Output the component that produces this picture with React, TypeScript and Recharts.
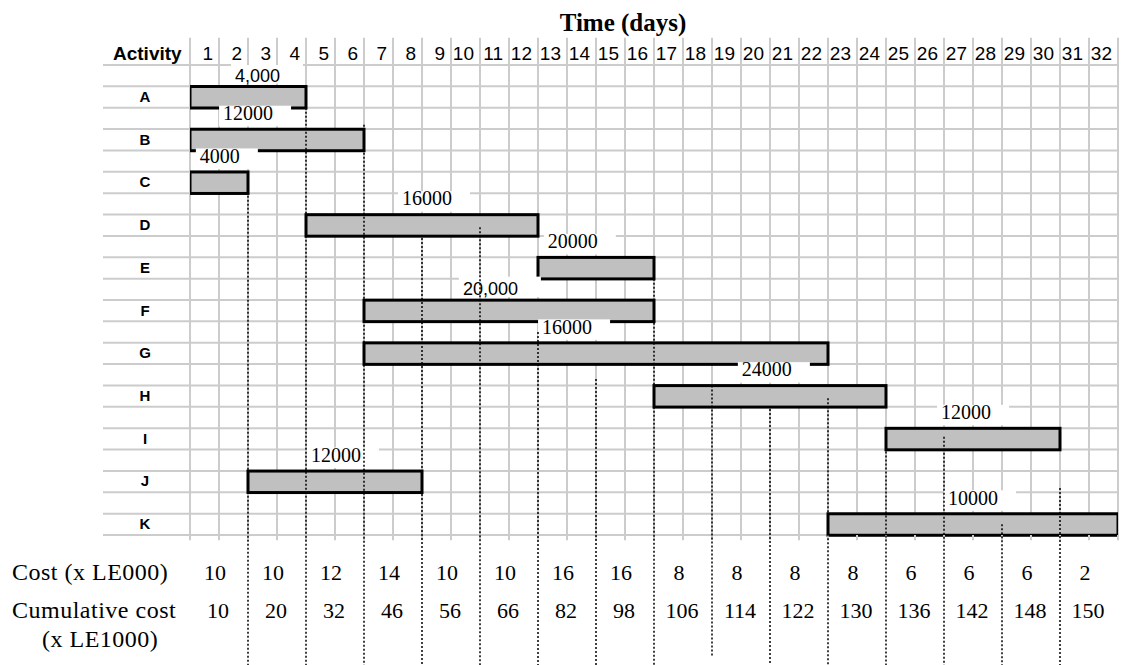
import React from "react";
import { ComposedChart, Bar, XAxis, YAxis, CartesianGrid, ReferenceLine } from "recharts";

// activities and their durations (days)
const activities = ["A", "B", "C", "D", "E", "F", "G", "H", "I", "J", "K"];
const startDay = [0, 0, 0, 4, 12, 6, 6, 16, 24, 2, 22];
const endDay = [4, 6, 2, 12, 16, 16, 22, 24, 30, 8, 32];
const costText = ["4,000", "12000", "4000", "16000", "20000", "20,000", "16000", "24000", "12000", "12000", "10000"];
// day where the cost text starts
const costTextDay = [1.55, 1.14, 0.34, 7.31, 12.34, 9.41, 12.14, 19.03, 25.9, 4.17, 26.14];

const dayTicks = [0, 1, 2, 3, 4, 5, 6, 7, 8, 9, 10, 11, 12, 13, 14, 15, 16, 17, 18, 19, 20, 21, 22, 23, 24, 25, 26, 27, 28, 29, 30, 31, 32];
const rowTicks = [0, 1, 2, 3, 4, 5, 6, 7, 8, 9, 10, 11, 12, 13, 14, 15, 16, 17, 18, 19, 20, 21, 22];

// two-day periods
const periodMid = [1, 3, 5, 7, 9, 11, 13, 15, 17, 19, 21, 23, 25, 27, 29, 31];
const periodCost = [10, 10, 12, 14, 10, 10, 16, 16, 8, 8, 8, 8, 6, 6, 6, 2];
const periodCumulative = [10, 20, 32, 46, 56, 66, 82, 98, 106, 114, 122, 130, 136, 142, 148, 150];

// dotted guide lines (day, row where they start / end)
const guideDay = [2, 4, 6, 8, 10, 12, 14, 16, 18, 20, 22, 24, 26, 28, 30];
const guideFromRow = [5, 2, 2.8, 8.1, 7.6, 12.5, 14.7, 10, 15, 16.1, 15.6, 17.9, 17.4, 21.5, 19.8];
const guideToRow = [28.1, 28.1, 28.1, 28.1, 28.1, 28.1, 28.1, 28.1, 27.7, 28.1, 28.1, 28.1, 28.1, 28.1, 28.1];

// each activity uses two grid rows: cost text on top, bar below
const data = activities.map((name, i) => ({
  name,
  slot: i * 2 + 1,
  span: [startDay[i], endDay[i]],
  label: costText[i],
  labelDay: costTextDay[i],
}));

const SERIF = "'Liberation Serif', 'Times New Roman', serif";
const SANS = "'Liberation Sans', Arial, sans-serif";
const GRID = "#CCCCCC";

function GanttBar(props: any) {
  const { x, y, width, height, payload } = props;
  const half = height / 2;
  const pxPerDay = width / (payload.span[1] - payload.span[0]);
  const tx = x + (payload.labelDay - payload.span[0]) * pxPerDay;
  const sans = payload.label.includes(",");
  const boxW = payload.label.length * 10 + 22;
  return (
    <g>
      <rect x={tx - 4} y={y - 2} width={boxW} height={half - 1} fill="#fff" />
      <text
        x={tx}
        y={y + half / 2 + (sans ? 6 : 1.5)}
        fontFamily={sans ? SANS : SERIF}
        fontSize={sans ? 18 : 20}
        fill="#000"
      >
        {payload.label}
      </text>
      <rect x={x} y={y + half} width={width} height={half} fill="#C0C0C0" stroke="#000" strokeWidth={3} />
    </g>
  );
}

function DayTick(props: any) {
  const { x, y, payload } = props;
  if (payload.value === 0) return <g />;
  return (
    <text x={x - 6} y={y - 5} textAnchor="end" fontFamily={SANS} fontSize={19} fill="#000">
      {payload.value}
    </text>
  );
}

function ActivityTick(props: any) {
  const { x, y, payload } = props;
  return (
    <text x={x - 45} y={y + 15.5} textAnchor="middle" fontFamily={SANS} fontWeight="bold" fontSize={15} fill="#000">
      {payload.value}
    </text>
  );
}

function TableTick(props: any) {
  const { x, y, payload } = props;
  const i = periodMid.indexOf(payload.value);
  return (
    <g fontFamily={SERIF} fontSize={22} fill="#000">
      <text x={x - 4} y={y + 45} textAnchor="middle">{periodCost[i]}</text>
      <text x={x - 1} y={y + 83} textAnchor="middle">{periodCumulative[i]}</text>
    </g>
  );
}

export default function App() {
  return (
    <div style={{ position: "absolute", left: 0, top: 0, width: 1121, height: 665, background: "#fff" }}>
      <ComposedChart
        width={1121}
        height={665}
        data={data}
        layout="vertical"
        barCategoryGap={0}
        margin={{ top: 38, right: 3, bottom: 30, left: 103 }}
      >
        <CartesianGrid xAxisId="days" yAxisId="rows" stroke={GRID} strokeWidth={2} />
        <XAxis
          xAxisId="days"
          orientation="top"
          type="number"
          domain={[0, 32]}
          ticks={dayTicks}
          interval={0}
          allowDataOverflow
          height={27}
          tickSize={0}
          tickMargin={0}
          tickLine={false}
          axisLine={false}
          tick={<DayTick />}
        />
        <XAxis
          xAxisId="table"
          orientation="bottom"
          type="number"
          domain={[0, 32]}
          ticks={periodMid}
          interval={0}
          allowDataOverflow
          height={100}
          tickSize={0}
          tickMargin={0}
          tickLine={false}
          axisLine={false}
          tick={<TableTick />}
        />
        <YAxis
          yAxisId="cat"
          type="category"
          dataKey="name"
          width={87}
          tickSize={0}
          tickMargin={0}
          tickLine={false}
          axisLine={false}
          interval={0}
          tick={<ActivityTick />}
        />
        <YAxis
          yAxisId="rows"
          type="number"
          dataKey="slot"
          domain={[0, 22]}
          ticks={rowTicks}
          interval={0}
          hide
          allowDataOverflow
        />

        {dayTicks.map((d) => (
          <ReferenceLine
            key={"vt" + d}
            xAxisId="days"
            yAxisId="rows"
            segment={[{ x: d, y: -1.27 }, { x: d, y: 0 }]}
            stroke={GRID}
            strokeWidth={2}
            ifOverflow="visible"
          />
        ))}
        {dayTicks.map((d) => (
          <ReferenceLine
            key={"vb" + d}
            xAxisId="days"
            yAxisId="rows"
            segment={[{ x: d, y: 22 }, { x: d, y: 22.25 }]}
            stroke={GRID}
            strokeWidth={2}
            ifOverflow="visible"
          />
        ))}
        {rowTicks.map((r) => (
          <ReferenceLine
            key={"hl" + r}
            xAxisId="days"
            yAxisId="rows"
            segment={[{ x: -3, y: r }, { x: 0, y: r }]}
            stroke={GRID}
            strokeWidth={2}
            ifOverflow="visible"
          />
        ))}

        <Bar xAxisId="days" yAxisId="cat" dataKey="span" shape={<GanttBar />} isAnimationActive={false} />

        {guideDay.map((d, i) => (
          <ReferenceLine
            key={"g" + d}
            xAxisId="days"
            yAxisId="rows"
            segment={[{ x: d, y: guideFromRow[i] }, { x: d, y: guideToRow[i] }]}
            stroke="#000"
            strokeWidth={1.5}
            strokeDasharray="2 2"
            ifOverflow="visible"
            zIndex={2500}
          />
        ))}
      </ComposedChart>

      <svg width={1121} height={665} style={{ position: "absolute", left: 0, top: 0, pointerEvents: "none" }}>
        <text x={623} y={31} textAnchor="middle" fontFamily={SERIF} fontWeight="bold" fontSize={25} fill="#000">
          Time (days)
        </text>
        <text x={113} y={60} fontFamily={SANS} fontWeight="bold" fontSize={19} fill="#000">
          Activity
        </text>
        <g fontFamily={SERIF} fontSize={24} fill="#000" letterSpacing={0.5}>
          <text x={12} y={580}>Cost (x LE000)</text>
          <text x={12} y={618}>Cumulative cost</text>
          <text x={42} y={647}>(x LE1000)</text>
        </g>
      </svg>
    </div>
  );
}
